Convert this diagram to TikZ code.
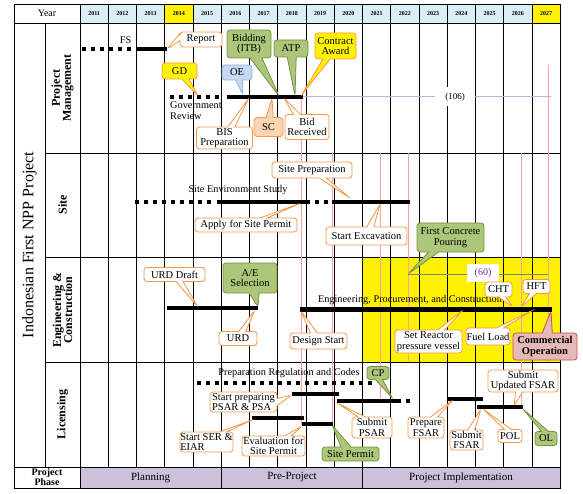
\documentclass[tikz,border=0pt]{standalone}
\usepackage{fontspec}
\setmainfont{Liberation Serif}
\usetikzlibrary{shapes.callouts}
\definecolor{orng}{RGB}{247,150,70}
\definecolor{grnfill}{RGB}{172,198,122}
\definecolor{grndraw}{RGB}{118,146,60}
\definecolor{oefill}{RGB}{198,217,241}
\definecolor{oedraw}{RGB}{142,180,227}
\definecolor{scfill}{RGB}{251,212,180}
\definecolor{cofill}{RGB}{230,185,184}
\definecolor{codraw}{RGB}{192,80,77}
\definecolor{hdr}{RGB}{218,238,243}
\definecolor{phasec}{RGB}{204,192,218}
\definecolor{pinkln}{RGB}{255,160,160}
\definecolor{lav}{RGB}{204,170,221}
\definecolor{purp}{RGB}{112,48,160}
\begin{document}
\begin{tikzpicture}[x=1pt,y=-1pt,
  thickbar/.style={line width=4pt},
  dotbar/.style={line width=4pt,dash pattern=on 4pt off 5pt},
  gridln/.style={line width=0.9pt,black},
  pinkline/.style={pinkln,line width=0.7pt},
  sz/.style 2 args={minimum width=#1pt,minimum height=#2pt},
  ptr/.style={callout absolute pointer={(#1)}},
  cow/.style={rectangle callout,rounded corners=3pt,draw=orng,fill=white,line width=0.8pt,
    font=\fontsize{10.5}{10.5}\selectfont,align=center,inner sep=0pt,callout pointer width=7pt},
  cog/.style={cow,draw=grndraw,fill=grnfill},
  coy/.style={cow,fill=yellow},
  cob/.style={cow,draw=oedraw,fill=oefill},
  cos/.style={cow,fill=scfill},
  cop/.style={cow,draw=codraw,fill=cofill,font=\bfseries\fontsize{10.5}{11}\selectfont},
  txt/.style={font=\fontsize{10.3}{11}\selectfont,inner sep=0pt},
  yr/.style={font=\bfseries\fontsize{6}{6}\selectfont,inner sep=0pt},
  cat/.style={font=\bfseries\fontsize{12}{11}\selectfont,rotate=90,align=center,inner sep=0pt},
  ph/.style={font=\fontsize{11}{11}\selectfont,inner sep=0pt},
]
\useasboundingbox (0,0) rectangle (583,494);
% fills
\fill[hdr] (80,4) rectangle (560.25,23);
\fill[yellow] (164.75,4) rectangle (193,23);
\fill[yellow] (532,4) rectangle (560.25,23);
\fill[yellow] (362.5,257) rectangle (560.25,362);
\fill[phasec] (80,467) rectangle (560.25,488);
% grid
\foreach \k in {0,...,17} \draw[gridln] ({80+28.25*\k},4) -- ({80+28.25*\k},467);
\draw[gridln] (14,4) rectangle (560.25,488);
\draw[gridln] (14,23) -- (560.25,23);
\draw[gridln] (45,23) -- (45,467);
\foreach \y in {153,257,362} \draw[gridln] (45,\y) -- (560.25,\y);
\draw[gridln] (14,467) -- (560.25,467);
\draw[gridln] (80,467) -- (80,488);
\draw[gridln] (221.25,467) -- (221.25,488);
\draw[gridln] (362.5,467) -- (362.5,488);
% header
\node[font=\fontsize{10}{10}\selectfont,inner sep=0pt] (year) at (47,13.5) {Year};
\foreach \k in {0,...,16}{
  \pgfmathtruncatemacro\yy{2011+\k}
  \node[yr] (y\yy) at ({94.125+28.25*\k},13.5) {\yy};
}
% left labels
\node[font=\fontsize{16}{16}\selectfont,rotate=90,inner sep=0pt] (title) at (29.5,245) {Indonesian First NPP Project};
\node[cat] (catpm) at (62.5,88) {Project\\Management};
\node[cat] (catsite) at (62.5,205) {Site};
\node[cat] (catec) at (62.5,310) {Engineering \&\\Construction};
\node[cat] (catlic) at (62.5,414.5) {Licensing};
\node[font=\bfseries\fontsize{10}{10}\selectfont,align=center,inner sep=0pt] (phase) at (47,477.5) {Project\\Phase};
\node[ph] (plan) at (150.6,477.5) {Planning};
\node[ph] (prep) at (292,477.5) {Pre-Project};
\node[ph] (impl) at (461,477.5) {Project Implementation};
% pink lines
\draw[pinkline] (301,97) -- (301,425);
\draw[pinkline] (332,153) -- (332,425);
\draw[pinkline] (380,153) -- (380,400);
\draw[pinkline] (408,153) -- (408,362);
\draw[pinkline] (521,153) -- (521,405);
\draw[pinkline] (548,65) -- (548,362);
% durations
\draw[lav,line width=1pt] (301,97) -- (551,97);
\node[fill=white,inner sep=0pt,sz={40}{19},font=\fontsize{9}{9}\selectfont] (d106) at (455,97) {(106)};
\draw[gray,line width=0.8pt] (408,274) -- (548,274);
\node[fill=white,inner sep=0pt,sz={32}{18},text=purp,font=\fontsize{10}{10}\selectfont] (d60) at (483,273) {(60)};
% bars PM
\draw[dotbar] (82,49) -- (133,49);
\draw[thickbar] (136.5,49) -- (167,49);
\draw[dotbar] (170,97) -- (222,97);
\draw[thickbar] (227,97) -- (303,97);
% bars site
\draw[dotbar] (135,202) -- (213,202);
\draw[thickbar] (217,202) -- (310,202);
\draw[dotbar] (315,202) -- (330,202);
\draw[thickbar] (332,202) -- (410,202);
% bars E&C
\draw[thickbar] (167,308) -- (258,308);
\draw[line width=5pt] (300,309) -- (552,309);
% bars licensing
\draw[dotbar] (197,383) -- (373,383);
\draw[thickbar] (292,394) -- (339,394);
\draw[thickbar] (337,401) -- (401,401);
\draw[thickbar] (406,401) -- (410,401);
\draw[thickbar] (252,418) -- (304,418);
\draw[thickbar] (302,424) -- (333,424);
\draw[thickbar] (448,399) -- (483,399);
\draw[thickbar] (477,407) -- (523,407);
% plain texts
\node[txt] (fs) at (125.5,40.5) {FS};
\node[txt,align=left,anchor=north west] (gov) at (170,101) {Government\\Review};
\node[txt] (ses) at (238,190) {Site Environment Study};
\node[txt] (epc) at (410,300) {Engineering, Procurement, and Construction};
\node[txt] (prc) at (289,373) {Preparation Regulation and Codes};
% pointer tips
\coordinate (tReport) at (167,49);
\coordinate (tGD) at (198,96);
\coordinate (tOE) at (243,95);
\coordinate (tBid) at (279,96);
\coordinate (tATP) at (295,96);
\coordinate (tCA) at (301,96);
\coordinate (tBIS) at (249,98);
\coordinate (tSC) at (272,98);
\coordinate (tBR) at (284,98);
\coordinate (tSP) at (350,198);
\coordinate (tAp) at (301,203);
\coordinate (tSE) at (380,204);
\coordinate (tFC) at (408,274);
\coordinate (tUD) at (198,307);
\coordinate (tAE) at (258,307);
\coordinate (tURD) at (255,310);
\coordinate (tDS) at (301,311);
\coordinate (tSR) at (463,310);
\coordinate (tCHT) at (513,307);
\coordinate (tHFT) at (521,307);
\coordinate (tFL) at (533,310);
\coordinate (tCO) at (551,311);
\coordinate (tCP) at (393,399);
\coordinate (tSPP) at (292,395);
\coordinate (tSPs) at (337,403);
\coordinate (tSER) at (252,420);
\coordinate (tEv) at (302,426);
\coordinate (tSPm) at (332,425);
\coordinate (tPF) at (453,400);
\coordinate (tSF) at (481,409);
\coordinate (tPOL) at (483,409);
\coordinate (tSU) at (514,406);
\coordinate (tOL) at (523,409);
% callouts PM
\node[cow,sz={42}{15},ptr=tReport] (report) at (201,39.5) {Report};
\node[coy,sz={35}{16},ptr=tGD] (gd) at (179.5,71) {GD};
\node[cob,sz={30}{15},ptr=tOE] (oe) at (237,72.5) {OE};
\node[cog,sz={44}{28},ptr=tBid,callout pointer width=12pt] (bid) at (249,44) {Bidding\\(ITB)};
\node[cog,sz={34}{17},ptr=tATP,callout pointer width=9pt] (atp) at (291,48.5) {ATP};
\node[coy,sz={41}{26},ptr=tCA] (ca) at (335.5,46) {Contract\\Award};
\node[cow,sz={56}{22},ptr=tBIS] (bis) at (224.5,138) {BIS\\Preparation};
\node[cos,sz={29}{19},ptr=tSC] (sc) at (268.5,127) {SC};
\node[cow,sz={44}{25},ptr=tBR] (br) at (307,127) {Bid\\Received};
% callouts site
\node[cow,sz={80}{16},ptr=tSP] (sprep) at (312,170) {Site Preparation};
\node[cow,sz={102}{14},ptr=tAp] (apply) at (246,225) {Apply for Site Permit};
\node[cow,sz={81}{18},ptr=tSE] (sexc) at (366.5,236) {Start Excavation};
\node[cog,sz={67}{29},ptr=tFC,callout pointer width=10pt] (fcp) at (450.5,237.5) {First Concrete\\Pouring};
% callouts E&C
\node[cow,sz={61}{14},ptr=tUD] (urdd) at (174.5,274.5) {URD Draft};
\node[cog,sz={54}{30},ptr=tAE,callout pointer width=10pt] (ae) at (250,278) {A/E\\Selection};
\node[cow,sz={38}{14},ptr=tURD] (urd) at (238,338.5) {URD};
\node[cow,sz={57}{16},ptr=tDS] (ds) at (318.5,341) {Design Start};
\node[cow,sz={67}{23},ptr=tSR] (srpv) at (428.5,341.5) {Set Reactor\\pressure vessel};
\node[cow,sz={27}{15},ptr=tCHT] (cht) at (498.5,289.5) {CHT};
\node[cow,sz={27}{14},ptr=tHFT] (hft) at (536.5,286.5) {HFT};
\node[cow,sz={44}{17},ptr=tFL] (fl) at (488,336.5) {Fuel Load};
\node[cop,sz={64}{27},ptr=tCO,callout pointer width=10pt] (cop) at (545,346.5) {Commercial\\Operation};
% callouts licensing
\node[cog,sz={22}{13},ptr=tCP] (cp) at (378,373) {CP};
\node[cow,sz={67}{20},ptr=tSPP,align=left] (spp) at (243.5,402) {Start preparing\\PSAR \& PSA};
\node[cow,sz={40}{21},ptr=tSPs] (spsar) at (372,427.5) {Submit\\PSAR};
\node[cow,sz={53}{20},ptr=tSER,align=left] (ser) at (206.5,442) {Start SER \&\\EIAR};
\node[cow,sz={63}{20},ptr=tEv] (ev) at (273.5,446) {Evaluation for\\Site Permit};
\node[cog,sz={57}{14},ptr=tSPm,callout pointer width=10pt] (spm) at (350.5,454) {Site Permit};
\node[cow,sz={36}{21},ptr=tPF] (pf) at (426,427.5) {Prepare\\FSAR};
\node[cow,sz={33}{20},ptr=tSF] (sf) at (466.5,440) {Submit\\FSAR};
\node[cow,sz={24}{13},ptr=tPOL] (pol) at (510,436) {POL};
\node[cow,sz={70}{22},ptr=tSU] (su) at (523,381) {Submit\\Updated FSAR};
\node[cog,sz={22}{14},ptr=tOL] (ol) at (546,438.5) {OL};
\end{tikzpicture}
\end{document}
